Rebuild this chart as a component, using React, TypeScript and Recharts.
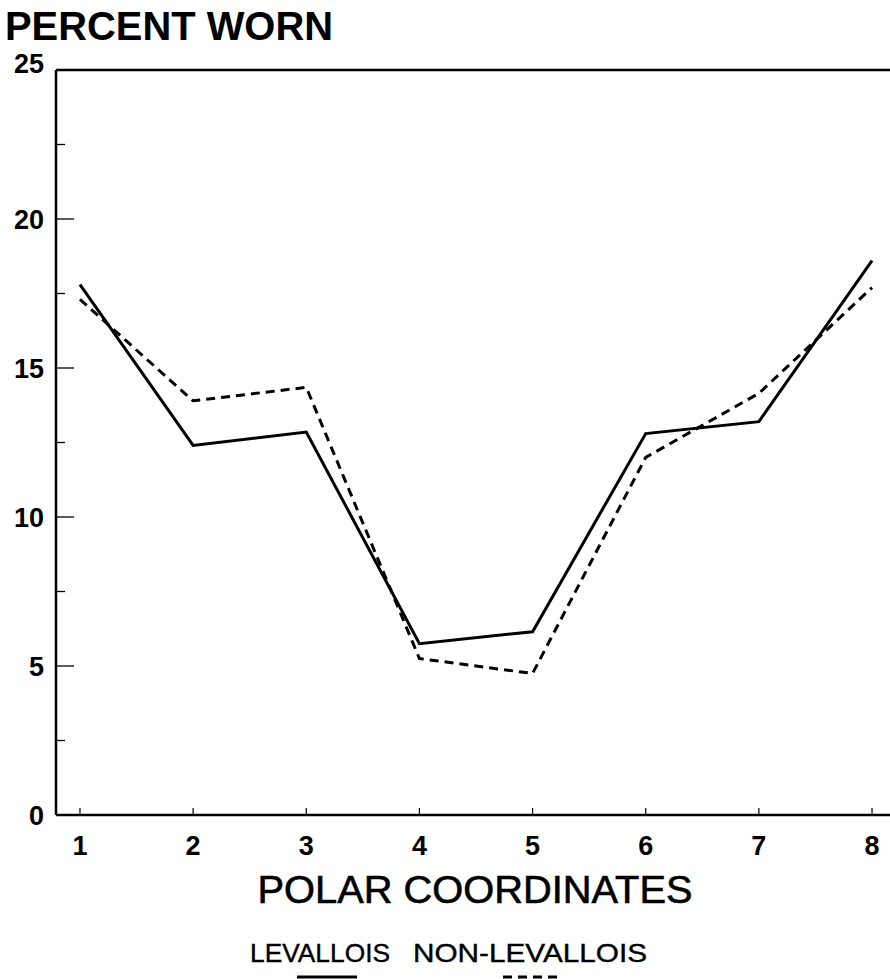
import React from 'react';
import { LineChart, Line, XAxis, YAxis, ReferenceLine } from 'recharts';

const coords = [1, 2, 3, 4, 5, 6, 7, 8];
const levallois = [17.8, 12.4, 12.85, 5.75, 6.15, 12.8, 13.2, 18.6];
const nonLevallois = [17.3, 13.9, 14.35, 5.25, 4.75, 12.0, 14.15, 17.7];
const yTicks = [0, 2.5, 5, 7.5, 10, 12.5, 15, 17.5, 20, 22.5, 25];
const xTicks = [1, 2, 3, 4, 5, 6, 7, 8];
const seriesNames = ['LEVALLOIS', 'NON-LEVALLOIS'];
const yTitle = 'PERCENT WORN';
const xTitle = 'POLAR COORDINATES';

const data = coords.map((c, i) => ({ coord: c, lev: levallois[i], non: nonLevallois[i] }));

const FONT = '"Liberation Sans", Arial, Helvetica, sans-serif';
const DASH = '9 6';

const YTick = (props: any) => {
  const { x, y, payload } = props;
  const v = payload.value;
  const major = v % 5 === 0;
  return (
    <g>
      <line x1={x} x2={x + (major ? 18 : 9)} y1={y} y2={y} stroke="#000" strokeWidth={1.3} />
      {major && (
        <text x={x - 12} y={y} dy={v === 25 ? 3 : 10} textAnchor="end" fontSize={27} fontWeight="bold" fontFamily={FONT} fill="#000">
          {v}
        </text>
      )}
    </g>
  );
};

const XTick = (props: any) => {
  const { x, y, payload } = props;
  return (
    <g>
      <line x1={x} x2={x} y1={y} y2={y - 7} stroke="#000" strokeWidth={1.2} />
      <text x={x} y={y + 40} textAnchor="middle" fontSize={27} fontWeight="bold" fontFamily={FONT} fill="#000">
        {payload.value}
      </text>
    </g>
  );
};

const BottomTexts = () => (
  <g>
    <text x={475} y={903} textAnchor="middle" fontSize={38} fontFamily={FONT} fill="#000" stroke="#000" strokeWidth={0.6} textLength={435} lengthAdjust="spacingAndGlyphs">
      {xTitle}
    </text>
    <text x={250} y={962} fontSize={26} fontFamily={FONT} fill="#000" stroke="#000" strokeWidth={0.4} textLength={140} lengthAdjust="spacingAndGlyphs">
      {seriesNames[0]}
    </text>
    <text x={413} y={962} fontSize={26} fontFamily={FONT} fill="#000" stroke="#000" strokeWidth={0.4} textLength={234} lengthAdjust="spacingAndGlyphs">
      {seriesNames[1]}
    </text>
    <line x1={297} x2={357} y1={977} y2={977} stroke="#000" strokeWidth={3} />
    <line x1={503} x2={563} y1={977} y2={977} stroke="#000" strokeWidth={3} strokeDasharray={DASH} />
  </g>
);

const TopTitle = () => (
  <text x={5} y={40} fontSize={40} fontWeight="bold" fontFamily={FONT} fill="#000" textLength={328} lengthAdjust="spacingAndGlyphs">
    {yTitle}
  </text>
);

export default function App() {
  return (
    <div style={{ position: 'absolute', left: 0, top: 0, width: 890, height: 979, background: '#fff' }}>
      <LineChart width={890} height={979} data={data} margin={{ top: 70, right: 0, bottom: 0, left: 0 }}>
        <XAxis
          dataKey="coord"
          type="number"
          domain={[0.788, 8.159]}
          ticks={xTicks}
          allowDataOverflow
          height={164}
          tickSize={0}
          tickMargin={0}
          tickLine={false}
          axisLine={{ stroke: '#000', strokeWidth: 2.5 }}
          tick={<XTick />}
          label={{ content: () => <BottomTexts /> }}
        />
        <YAxis
          type="number"
          domain={[0, 25]}
          ticks={yTicks}
          width={56}
          tickSize={0}
          tickMargin={0}
          tickLine={false}
          axisLine={{ stroke: '#000', strokeWidth: 2.5 }}
          tick={<YTick />}
          interval={0}
          label={{ content: () => <TopTitle /> }}
        />
        <ReferenceLine y={25} stroke="#000" strokeWidth={2.5} />
        <Line dataKey="lev" name={seriesNames[0]} stroke="#000" strokeWidth={3} dot={false} isAnimationActive={false} />
        <Line dataKey="non" name={seriesNames[1]} stroke="#000" strokeWidth={3} strokeDasharray={DASH} dot={false} isAnimationActive={false} />
      </LineChart>
    </div>
  );
}
